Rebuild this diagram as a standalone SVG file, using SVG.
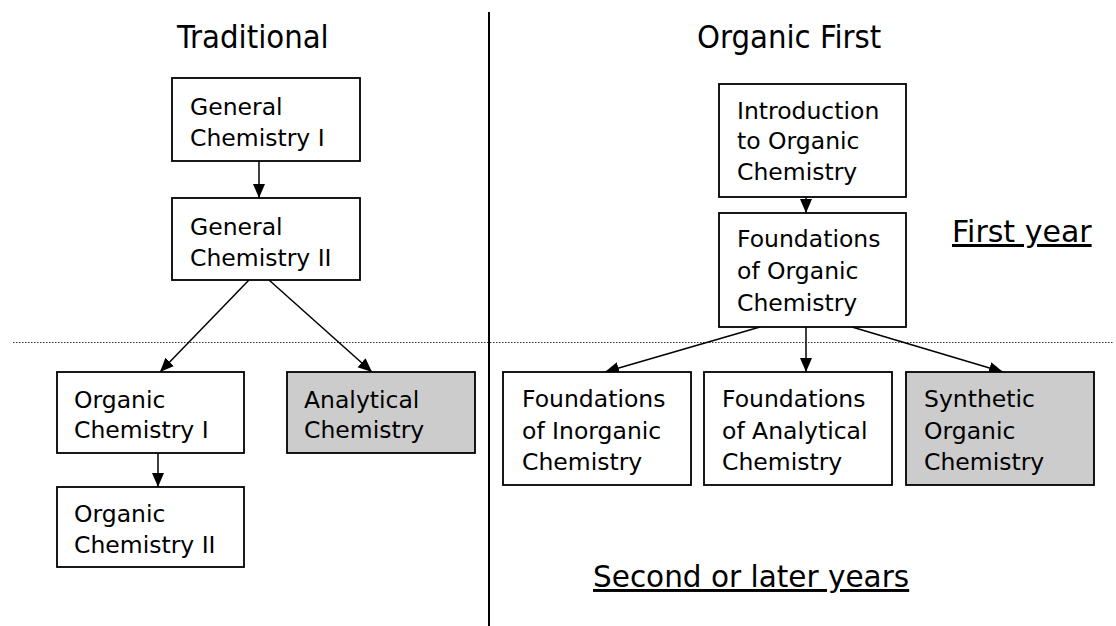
<svg xmlns="http://www.w3.org/2000/svg" width="1116" height="626" viewBox="0 0 1116 626">
<style>
text{font-family:"DejaVu Sans",sans-serif;fill:#000}
.n{font-size:23.5px}
.t{font-family:"DejaVu Sans Condensed","DejaVu Sans",sans-serif;font-size:32.5px}
.u{font-size:30px}
.s{font-size:29.5px}
.box{fill:#fff;stroke:#000;stroke-width:1.8}
.g{fill:#ccc}
.c{stroke:#000;stroke-width:1.5;fill:none;marker-end:url(#ah)}
</style>
<defs>
<marker id="ah" markerUnits="userSpaceOnUse" markerWidth="16" markerHeight="16" viewBox="0 0 16 16" refX="14" refY="8" orient="auto">
<path d="M0,2 L14,8 L0,14 Z" fill="#000"/>
</marker>
</defs>
<rect width="1116" height="626" fill="#fff"/>
<g id="dividers">
<line x1="489" y1="12" x2="489" y2="626" stroke="#000" stroke-width="2"/>
<line x1="13" y1="342.5" x2="1114" y2="342.5" stroke="#333" stroke-width="1" stroke-dasharray="1.5 1.5"/>
</g>
<g id="labels">
<text class="t" x="177" y="48">Traditional</text>
<text class="t" x="697" y="48">Organic First</text>
<text class="u" x="952" y="242" text-decoration="underline">First year</text>
<text class="s" x="593" y="587" text-decoration="underline">Second or later years</text>
</g>
<g id="connectors">
<line class="c" x1="259" y1="161" x2="259" y2="198"/>
<line class="c" x1="249" y1="280" x2="160" y2="372"/>
<line class="c" x1="269" y1="280" x2="372" y2="372"/>
<line class="c" x1="158" y1="453" x2="158" y2="487"/>
<line class="c" x1="806" y1="197" x2="806" y2="213"/>
<line class="c" x1="760" y1="327" x2="605" y2="372"/>
<line class="c" x1="806" y1="327" x2="806" y2="372"/>
<line class="c" x1="852" y1="327" x2="1003" y2="372"/>
</g>
<g id="gen1"><rect class="box" x="172" y="78" width="188" height="83"/><text class="n" x="190" y="115">General</text><text class="n" x="190" y="146">Chemistry I</text></g>
<g id="gen2"><rect class="box" x="172" y="198" width="188" height="82"/><text class="n" x="190" y="235">General</text><text class="n" x="190" y="266">Chemistry II</text></g>
<g id="org1"><rect class="box" x="57" y="372" width="187" height="81"/><text class="n" x="74" y="408">Organic</text><text class="n" x="74" y="438">Chemistry I</text></g>
<g id="anal"><rect class="box g" x="287" y="372" width="188" height="81"/><text class="n" x="304" y="408">Analytical</text><text class="n" x="304" y="438">Chemistry</text></g>
<g id="org2"><rect class="box" x="57" y="487" width="187" height="80"/><text class="n" x="74" y="522">Organic</text><text class="n" x="74" y="553">Chemistry II</text></g>
<g id="intro"><rect class="box" x="719" y="84" width="187" height="113"/><text class="n" x="737" y="119">Introduction</text><text class="n" x="737" y="149">to Organic</text><text class="n" x="737" y="180">Chemistry</text></g>
<g id="fOrg"><rect class="box" x="719" y="213" width="187" height="114"/><text class="n" x="737" y="247">Foundations</text><text class="n" x="737" y="279">of Organic</text><text class="n" x="737" y="311">Chemistry</text></g>
<g id="fInorg"><rect class="box" x="503" y="372" width="188" height="113"/><text class="n" x="522" y="407">Foundations</text><text class="n" x="522" y="439">of Inorganic</text><text class="n" x="522" y="470">Chemistry</text></g>
<g id="fAnal"><rect class="box" x="704" y="372" width="188" height="113"/><text class="n" x="722" y="407">Foundations</text><text class="n" x="722" y="439">of Analytical</text><text class="n" x="722" y="470">Chemistry</text></g>
<g id="synth"><rect class="box g" x="906" y="372" width="188" height="113"/><text class="n" x="924" y="407">Synthetic</text><text class="n" x="924" y="439">Organic</text><text class="n" x="924" y="470">Chemistry</text></g>
</svg>
